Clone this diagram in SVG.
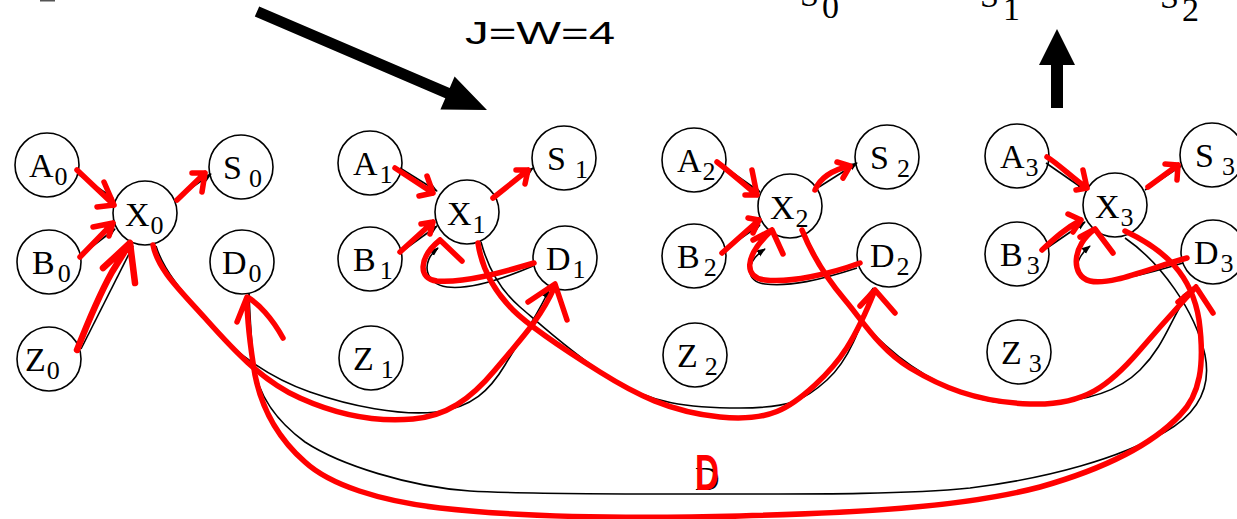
<svg xmlns="http://www.w3.org/2000/svg" width="1237" height="519" viewBox="0 0 1237 519">
<defs>
<style>
.n circle{fill:#fff;stroke:#000;stroke-width:1.6}
.n text,.t{font-family:"Liberation Serif","Times New Roman",serif;font-size:34px;fill:#000}
.n tspan{font-size:26px}
.k{fill:none;stroke:#000;stroke-width:1.6}
.r{fill:none;stroke:#f00;stroke-width:5.5;stroke-linecap:round;stroke-linejoin:round}
</style>
<marker id="ah" viewBox="0 0 10 10" refX="9" refY="5" markerWidth="9" markerHeight="9" markerUnits="userSpaceOnUse" orient="auto"><path d="M0,1 L10,5 L0,9 z" fill="#000"/></marker>
</defs>
<rect width="1237" height="519" fill="#fff"/>
<rect x="40" y="0" width="15" height="1.5" fill="#555"/>

<g id="top-labels">
<text x="465" y="44" font-family="Liberation Sans, Arial, sans-serif" font-size="32" textLength="150" lengthAdjust="spacingAndGlyphs">J=W=4</text>
<text class="t" x="800" y="6">S</text><text class="t" x="822" y="18" font-size="26">0</text>
<text class="t" x="980" y="7">S</text><text class="t" x="1003" y="20" font-size="26">1</text>
<text class="t" x="1160" y="8">S</text><text class="t" x="1182" y="21" font-size="26">2</text>
</g>

<g id="big-arrows" fill="#000">
<polygon points="259.2,6.4 449.7,88 454.6,76.6 487,110 440.4,109.6 445.3,98.2 254.8,16.6"/>
<polygon points="1051,108 1051,65 1039,65 1057,29 1075,65 1063,65 1063,108"/>
</g>

<g id="nodes">
<g id="A0" class="n"><circle cx="47" cy="165" r="32"/><text x="29" y="177">A<tspan dy="8" dx="1">0</tspan></text></g>
<g id="X0" class="n"><circle cx="145" cy="213" r="32"/><text x="125" y="226">X<tspan dy="8" dx="1">0</tspan></text></g>
<g id="S0" class="n"><circle cx="241" cy="167" r="32"/><text x="223" y="179">S<tspan dy="8" dx="7">0</tspan></text></g>
<g id="B0" class="n"><circle cx="49" cy="262" r="32"/><text x="32" y="274">B<tspan dy="8" dx="3">0</tspan></text></g>
<g id="D0" class="n"><circle cx="242" cy="262" r="32"/><text x="222" y="274">D<tspan dy="8" dx="2">0</tspan></text></g>
<g id="Z0" class="n"><circle cx="49" cy="359" r="32"/><text x="25" y="371">Z<tspan dy="8" dx="1">0</tspan></text></g>

<g id="A1" class="n"><circle cx="370" cy="163" r="32"/><text x="353" y="175">A<tspan dy="8" dx="2">1</tspan></text></g>
<g id="X1" class="n"><circle cx="467" cy="212" r="32"/><text x="447" y="225">X<tspan dy="8" dx="1">1</tspan></text></g>
<g id="S1" class="n"><circle cx="564" cy="158" r="32"/><text x="547" y="170">S<tspan dy="8" dx="9">1</tspan></text></g>
<g id="B1" class="n"><circle cx="370" cy="259" r="32"/><text x="353" y="271">B<tspan dy="8" dx="4">1</tspan></text></g>
<g id="D1" class="n"><circle cx="565" cy="258" r="32"/><text x="546" y="270">D<tspan dy="8" dx="2">1</tspan></text></g>
<g id="Z1" class="n"><circle cx="371" cy="358" r="32"/><text x="353" y="370">Z<tspan dy="8" dx="7">1</tspan></text></g>

<g id="A2" class="n"><circle cx="694" cy="160" r="32"/><text x="677" y="172">A<tspan dy="8" dx="1">2</tspan></text></g>
<g id="X2" class="n"><circle cx="790" cy="206" r="32"/><text x="770" y="219">X<tspan dy="8" dx="1">2</tspan></text></g>
<g id="S2" class="n"><circle cx="887" cy="157" r="32"/><text x="870" y="169">S<tspan dy="8" dx="8">2</tspan></text></g>
<g id="B2" class="n"><circle cx="694" cy="256" r="32"/><text x="677" y="268">B<tspan dy="8" dx="4">2</tspan></text></g>
<g id="D2" class="n"><circle cx="889" cy="255" r="32"/><text x="870" y="267">D<tspan dy="8" dx="2">2</tspan></text></g>
<g id="Z2" class="n"><circle cx="695" cy="355" r="32"/><text x="677" y="367">Z<tspan dy="8" dx="7">2</tspan></text></g>

<g id="A3" class="n"><circle cx="1017" cy="156" r="32"/><text x="1000" y="168">A<tspan dy="8" dx="1">3</tspan></text></g>
<g id="X3" class="n"><circle cx="1115" cy="205" r="32"/><text x="1095" y="218">X<tspan dy="8" dx="1">3</tspan></text></g>
<g id="S3" class="n"><circle cx="1212" cy="155" r="32"/><text x="1195" y="167">S<tspan dy="8" dx="8">3</tspan></text></g>
<g id="B3" class="n"><circle cx="1017" cy="254" r="32"/><text x="1000" y="266">B<tspan dy="8" dx="4">3</tspan></text></g>
<g id="D3" class="n"><circle cx="1213" cy="252" r="32"/><text x="1194" y="264">D<tspan dy="8" dx="2">3</tspan></text></g>
<g id="Z3" class="n"><circle cx="1019" cy="352" r="32"/><text x="1001" y="364">Z<tspan dy="8" dx="7">3</tspan></text></g>
</g>

<g id="connectors">
<g id="black-edges" class="k" marker-end="url(#ah)">
<path class="k" marker-end="url(#ah)" d="M78,174 L113,198"/>
<path class="k" marker-end="url(#ah)" d="M80,256 L115,229"/>
<path class="k" marker-end="url(#ah)" d="M81,349 L133,246"/>
<path class="k" marker-end="url(#ah)" d="M177,198 L211,174"/>
<path class="k" marker-end="url(#ah)" d="M400,168 L437,191"/>
<path class="k" marker-end="url(#ah)" d="M401,252 L437,226"/>
<path class="k" marker-end="url(#ah)" d="M495,196 L533,168"/>
<path class="k" marker-end="url(#ah)" d="M723,166 L760,192"/>
<path class="k" marker-end="url(#ah)" d="M724,250 L760,225"/>
<path class="k" marker-end="url(#ah)" d="M819,187 L857,163"/>
<path class="k" marker-end="url(#ah)" d="M1046,163 L1085,190"/>
<path class="k" marker-end="url(#ah)" d="M1047,248 L1085,222"/>
<path class="k" marker-end="url(#ah)" d="M1145,190 L1181,166"/>
<path class="k" marker-end="url(#ah)" d="M156,246 C165,275 190,300 213,327 S270,378 310,392 S400,416 436,412 S490,390 505,365 S535,320 549,290"/>
<path class="k" marker-end="url(#ah)" d="M481,242 C488,268 500,290 520,307 S570,352 610,378 S690,408 740,408 S805,400 827,380 S860,330 873,288"/>
<path class="k" marker-end="url(#ah)" d="M806,236 C818,262 835,290 852,310 S895,360 940,383 S1010,404 1043,403 S1115,395 1140,370 S1170,320 1190,290"/>
<path class="k" marker-end="url(#ah)" d="M1125,238 C1160,262 1195,310 1205,355 C1212,390 1195,415 1165,432 C1120,458 1050,478 970,488 C900,495 800,494 700,494 C600,494 520,494 470,491 C410,487 340,465 305,442 C275,420 258,395 254,365 C251,340 250,318 249,294"/>
<path class="k" marker-end="url(#ah)" d="M533,266 C505,278 470,290 447,287 C425,284 420,262 438,248"/>
<path class="k" marker-end="url(#ah)" d="M857,268 C820,280 790,287 765,284 C745,282 745,262 765,249"/>
<path class="k" marker-end="url(#ah)" d="M1183,263 C1150,273 1110,284 1088,280 C1072,276 1075,258 1090,246"/>
</g>
<g id="red-overlay" class="r">
<path d="M77,170 L114,205 M104,182 L114,205 L97,207"/>
<path d="M80,257 L113,223 M93,227 L113,223 L109,236"/>
<path stroke-width="6.5" d="M77,350 C88,322 102,290 112,272 L130,243 M103,268 L130,243 L135,283"/>
<path d="M177,200 L205,173 M192,173 L205,173 L202,192"/>
<path d="M395,168 L433,193 M427,176 L433,193 L419,196"/>
<path d="M400,252 L433,222 M421,224 L433,222 L430,234"/>
<path d="M493,198 L528,170 M516,170 L528,170 L525,184"/>
<path d="M717,162 C730,172 745,185 757,195 M752,170 L757,195 L745,195"/>
<path d="M722,253 L759,220 M748,218 L759,220 L753,233"/>
<path d="M815,190 C820,178 832,170 850,166 M837,162 L850,166 L843,178"/>
<path d="M1047,157 C1060,165 1072,178 1087,188 M1083,170 L1087,188 L1076,190"/>
<path d="M1042,250 C1055,238 1066,228 1081,220 M1068,214 L1081,220 L1073,232"/>
<path d="M1148,187 L1178,165 M1165,164 L1178,165 L1177,180"/>
<path d="M534,263 C500,273 465,283 437,281 C418,279 418,258 440,240 M440,240 L462,261"/>
<path d="M860,263 C830,274 790,283 765,280 C745,278 742,258 772,230 M753,240 L772,230 L783,254"/>
<path d="M1187,258 C1150,268 1110,286 1090,281 C1070,276 1072,245 1095,229 M1080,237 L1095,229 L1113,253"/>
<path d="M153,245 C158,270 180,290 205,318 S260,380 300,398 S380,422 413,419 S470,400 495,370 S540,320 555,286 M528,302 L555,284 L567,320"/>
<path d="M478,243 C482,270 495,292 513,310 S565,350 600,372 S670,412 720,417 S790,408 815,385 S855,340 875,290 M860,306 L875,290 L895,313"/>
<path d="M802,230 C812,255 828,280 845,300 S880,350 910,368 S975,402 1030,404 S1110,385 1140,350 S1180,305 1196,287 M1178,302 L1196,287 L1213,313"/>
<path d="M1125,231 C1165,250 1192,275 1199,320 C1205,365 1200,395 1180,415 C1150,447 1100,470 1040,487 C960,508 850,513 740,516 C620,519 520,517 440,508 C380,501 330,485 305,462 C280,440 262,410 255,375 C250,345 247,320 247,298 M237,322 L247,297 C258,303 272,318 283,338"/>
</g>
<g id="loop-label">
<text class="t" x="695" y="490">D</text>
<text x="695" y="490" font-family="Liberation Sans, Arial, sans-serif" font-weight="bold" font-size="50" fill="#f00" textLength="24" lengthAdjust="spacingAndGlyphs">D</text>
</g>
</g>
</svg>
